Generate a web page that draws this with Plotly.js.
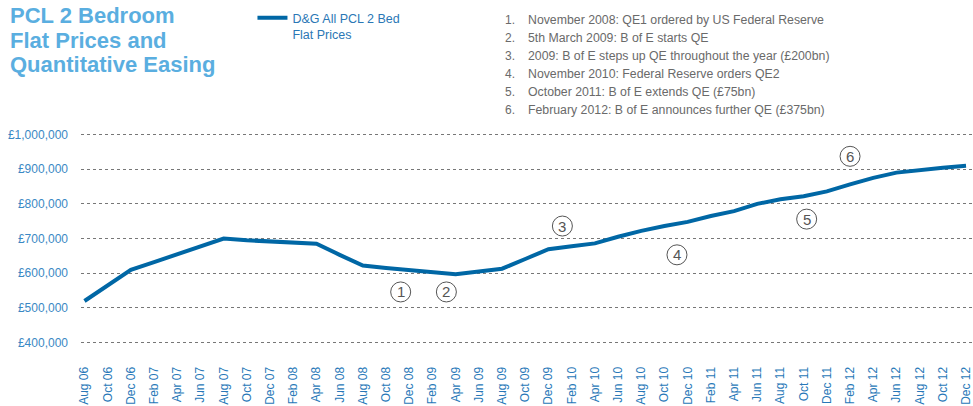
<!DOCTYPE html>
<html>
<head>
<meta charset="utf-8">
<script src="https://cdn.plot.ly/plotly-3.0.1.min.js"></script>
<style>html,body{margin:0;padding:0;background:#fff;}#chart{width:973px;height:406px;}</style>
</head>
<body>
<div id="chart"></div>
<script>
const months = ["Aug 06","Oct 06","Dec 06","Feb 07","Apr 07","Jun 07","Aug 07","Oct 07","Dec 07","Feb 08","Apr 08","Jun 08","Aug 08","Oct 08","Dec 08","Feb 09","Apr 09","Jun 09","Aug 09","Oct 09","Dec 09","Feb 10","Apr 10","Jun 10","Aug 10","Oct 10","Dec 10","Feb 11","Apr 11","Jun 11","Aug 11","Oct 11","Dec 11","Feb 12","Apr 12","Jun 12","Aug 12","Oct 12","Dec 12"];
const prices = [520000,565000,610000,632000,655000,678000,700000,695000,691000,688000,685000,653000,622000,615000,609000,603000,597000,605000,613000,641000,669000,678000,686000,705000,722000,736000,748000,765000,779000,800000,813000,822000,836000,856000,875000,890000,898000,904000,910000];
const yTicks = [400000,500000,600000,700000,800000,900000,1000000];
const yTickText = ["£400,000","£500,000","£600,000","£700,000","£800,000","£900,000","£1,000,000"];
const titleLines = ["PCL 2 Bedroom","Flat Prices and","Quantitative Easing"];
const events = [
  "November 2008: QE1 ordered by US Federal Reserve",
  "5th March 2009: B of E starts QE",
  "2009: B of E steps up QE throughout the year (£200bn)",
  "November 2010: Federal Reserve orders QE2",
  "October 2011: B of E extends QE (£75bn)",
  "February 2012: B of E announces further QE (£375bn)"
];
const markerLabels = ["1","2","3","4","5","6"];
const seriesName = "D&G All PCL 2 Bed<br>Flat Prices";

// marker positions (category index, value) - layout positions
const markerPos = [[13.63,546000],[15.6,546000],[20.6,736000],[25.54,653000],[31.13,756000],[33.0,937000]];

const W = 973, H = 406;
const L = 80.5, R = 0.3, T = 130.5, B = 52.6;
const pw = W - L - R, ph = H - T - B;
const px2paperX = px => (px - L) / pw;
const px2paperY = py => (H - B - py) / ph;
const FONT = 'Liberation Sans, Arial, sans-serif';

const annotations = [];
const shapes = [];
titleLines.forEach((t, i) => {
  annotations.push({xref:'paper', yref:'paper', x:px2paperX(7), y:px2paperY(15 + i * 24.5), xanchor:'left', yanchor:'middle', showarrow:false, text:'<b>'+t+'</b>', font:{family:FONT, size:22, color:'#5aaee0'}});
});
events.forEach((e, i) => {
  const py = 19 + i * 18;
  annotations.push({xref:'paper', yref:'paper', x:px2paperX(503), y:px2paperY(py), xanchor:'left', yanchor:'middle', showarrow:false, text:(i+1)+'.', font:{family:FONT, size:12, color:'#6a6a6a'}});
  annotations.push({xref:'paper', yref:'paper', x:px2paperX(526), y:px2paperY(py), xanchor:'left', yanchor:'middle', showarrow:false, text:e, font:{family:FONT, size:12.3, color:'#6a6a6a'}});
});
markerPos.forEach((p, i) => {
  shapes.push({type:'circle', xref:'x', yref:'y', xsizemode:'pixel', ysizemode:'pixel', xanchor:p[0], yanchor:p[1], x0:-10, x1:10, y0:-10, y1:10, line:{color:'#555', width:1}, fillcolor:'rgba(0,0,0,0)'});
  annotations.push({xref:'x', yref:'y', x:p[0], y:p[1], xanchor:'center', yanchor:'middle', showarrow:false, text:markerLabels[i], font:{family:FONT, size:15, color:'#555'}});
});

const trace = {
  type:'scatter', mode:'lines', x: months, y: prices, name: seriesName,
  line:{color:'#0067a5', width:4}
};

const layout = {
  width:W, height:H,
  margin:{l:L, r:R, t:T, b:B, pad:0, autoexpand:false},
  paper_bgcolor:'#fff', plot_bgcolor:'#fff',
  font:{family:FONT},
  showlegend:true,
  legend:{x:px2paperX(252), y:px2paperY(2), xanchor:'left', yanchor:'top', valign:'top', bgcolor:'rgba(0,0,0,0)', font:{size:12.5, color:'#2a77b5'}},
  xaxis:{type:'category', range:[-0.15, 38.3], tickvals:months, ticktext:months, tickangle:-90, showgrid:false, zeroline:false, showline:false, ticks:'outside', ticklen:8, tickcolor:'rgba(0,0,0,0)', tickfont:{size:12, color:'#2878b8'}, fixedrange:true},
  yaxis:{range:[370000, 1010000], tickvals:yTicks, ticktext:yTickText, showgrid:true, gridcolor:'#777', griddash:'dot', gridwidth:1, zeroline:false, showline:false, ticks:'', tickfont:{size:12, color:'#3a88c4'}, ticklabelstandoff:12, fixedrange:true},
  annotations: annotations,
  shapes: shapes
};

Plotly.newPlot('chart', [trace], layout, {displayModeBar:false, staticPlot:true});
</script>
</body>
</html>
